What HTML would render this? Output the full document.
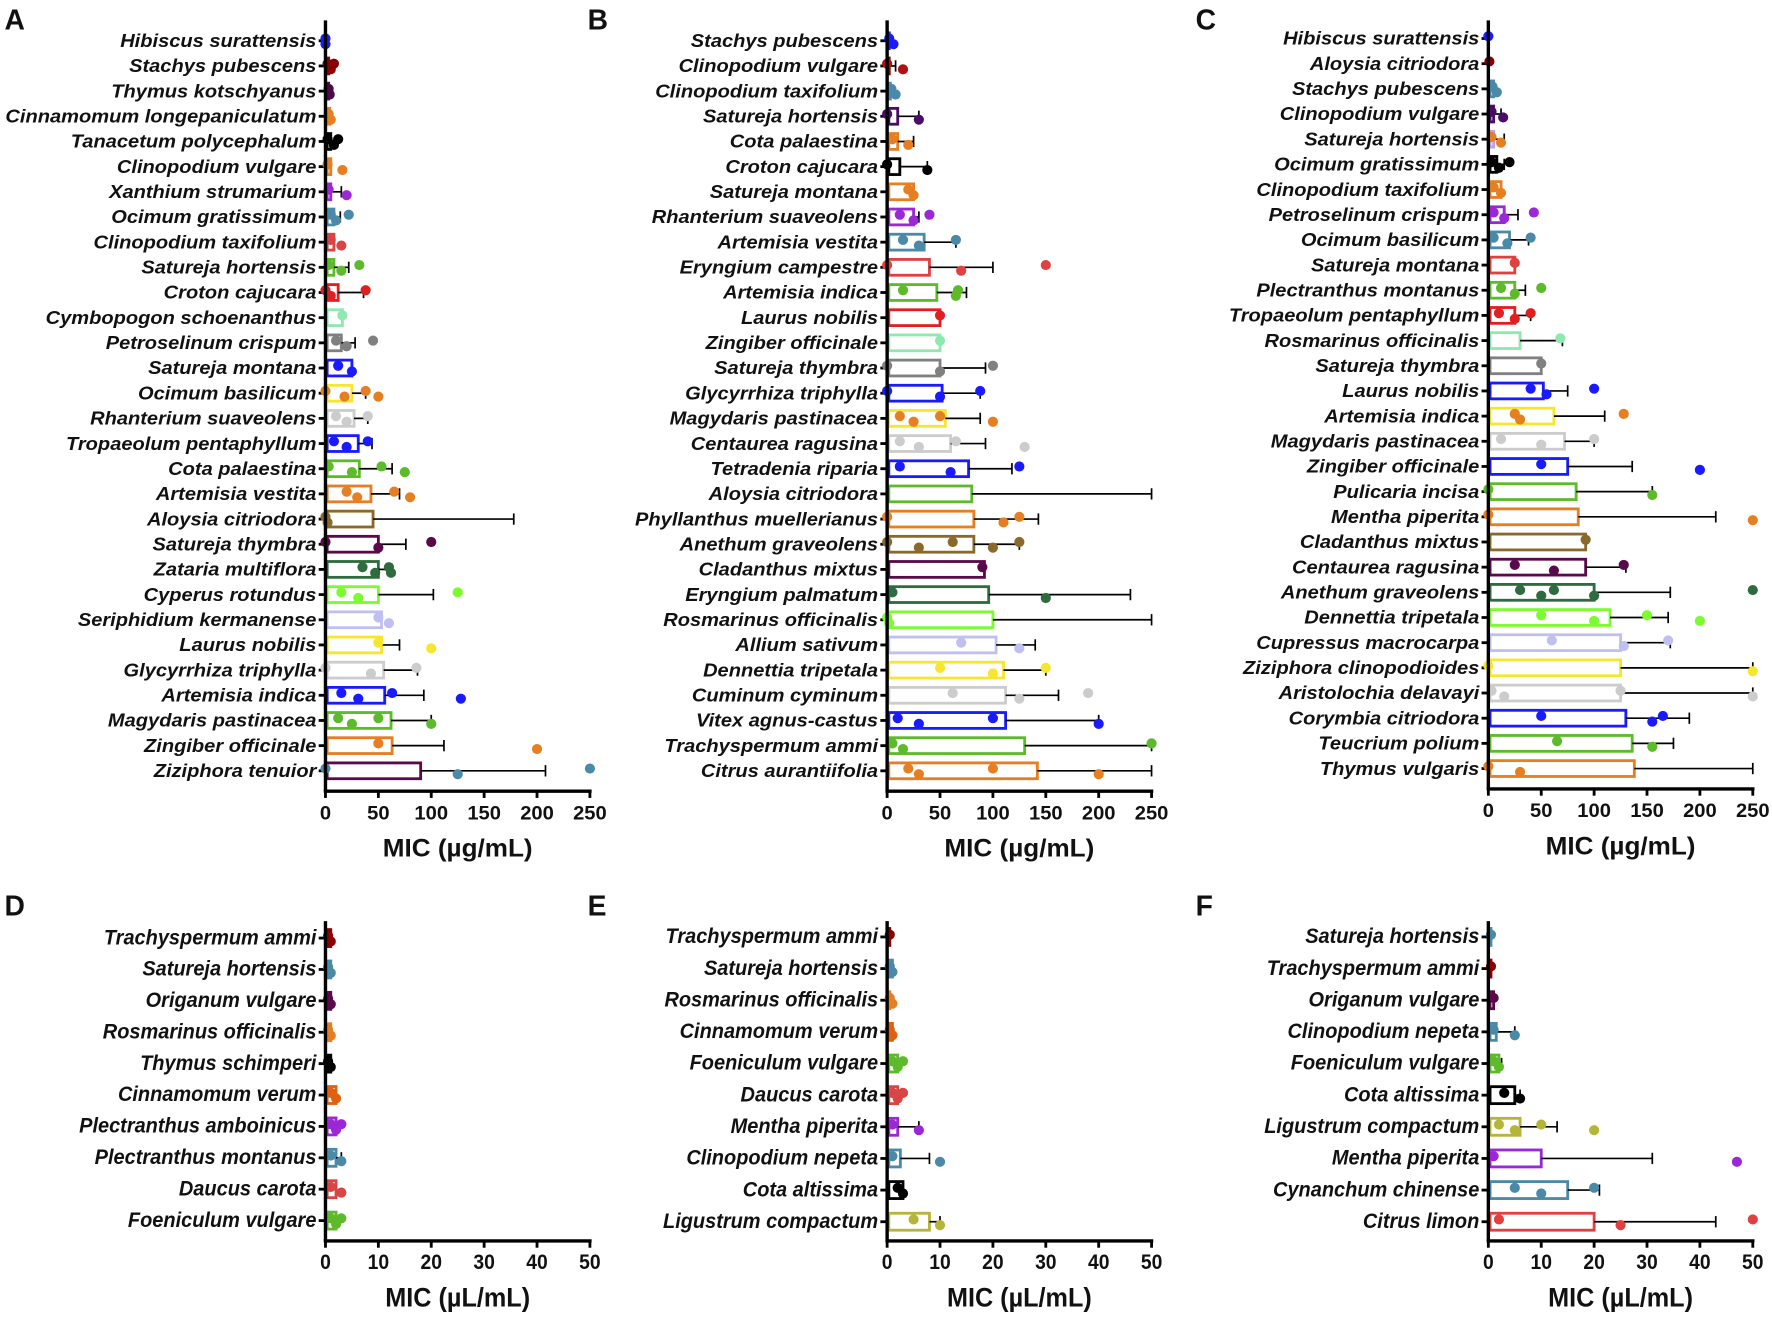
<!DOCTYPE html>
<html><head><meta charset="utf-8"><style>
html,body{margin:0;padding:0;background:#fff;}
svg{display:block;}
text{font-family:"Liberation Sans",sans-serif;font-weight:bold;fill:#111;}
</style></head><body>
<svg id="chart" width="1772" height="1319" viewBox="0 0 1568 1167" xmlns="http://www.w3.org/2000/svg"></svg>
<script>
// ===== Panel A =====
const namesA=["Hibiscus surattensis","Stachys pubescens","Thymus kotschyanus","Cinnamomum longepaniculatum","Tanacetum polycephalum","Clinopodium vulgare","Xanthium strumarium","Ocimum gratissimum","Clinopodium taxifolium","Satureja hortensis","Croton cajucara","Cymbopogon schoenanthus","Petroselinum crispum","Satureja montana","Ocimum basilicum","Rhanterium suaveolens","Tropaeolum pentaphyllum","Cota palaestina","Artemisia vestita","Aloysia citriodora","Satureja thymbra","Zataria multiflora","Cyperus rotundus","Seriphidium kermanense","Laurus nobilis","Glycyrrhiza triphylla","Artemisia indica","Magydaris pastinacea","Zingiber officinale","Ziziphora tenuior"];
const meansA=[0,3,3,4,5,5,5,8,8,8,12,16,15,25,25,27,31,32,43,45,50,50,50,53,53,55,56,62,63,90];
const errsA=[0,0,0,0,0,0,15,14,0,22,36,0,28,20,38,40,44,63,70,178,76,63,102,0,70,87,93,100,112,208];
const ptsA=[[0,0],[2,5,8],[3,4],[3,5],[2,8,12],[2,16],[3,20],[5,10,22],[5,15],[3,15,32],[0,5,38],[16],[10,20,45],[12,25],[0,18,38,50],[10,20,40],[8,20,40],[3,25,53,75],[20,30,65,80],[0,2],[0,50,100],[35,47,60,62],[15,31,125],[50,60],[50,100],[0,43,86],[15,31,63,128],[12,25,50,100],[50,200],[0,125,250]];
const barColA=["#1a1aff","#8b0000","#4b0b4b","#e67e22","#000","#e67e22","#9b27d6","#4a8aa8","#d94444","#5dbb2b","#e02020","#8ee8b0","#808080","#1a1aff","#f5e62e","#cccccc","#1a1aff","#5dbb2b","#e67e22","#8a6a2a","#5a0a4a","#2e6b3e","#7cfc30","#c0c0f0","#f5e62e","#cccccc","#1a1aff","#5dbb2b","#e67e22","#5a0a4a"];
const ptColA=["#1a1aff","#8b0000","#4b0b4b","#e67e22","#000","#e67e22","#9b27d6","#4a8aa8","#d94444","#5dbb2b","#e02020","#8ee8b0","#808080","#1a1aff","#e67e22","#cccccc","#1a1aff","#5dbb2b","#e67e22","#8a6a2a","#5a0a4a","#2e6b3e","#7cfc30","#c0c0f0","#f5e62e","#cccccc","#1a1aff","#5dbb2b","#e67e22","#4a8aa8"];
// ===== Panel B =====
const namesB=["Stachys pubescens","Clinopodium vulgare","Clinopodium taxifolium","Satureja hortensis","Cota palaestina","Croton cajucara","Satureja montana","Rhanterium suaveolens","Artemisia vestita","Eryngium campestre","Artemisia indica","Laurus nobilis","Zingiber officinale","Satureja thymbra","Glycyrrhiza triphylla","Magydaris pastinacea","Centaurea ragusina","Tetradenia riparia","Aloysia citriodora","Phyllanthus muellerianus","Anethum graveolens","Cladanthus mixtus","Eryngium palmatum","Rosmarinus officinalis","Allium sativum","Dennettia tripetala","Cuminum cyminum","Vitex agnus-castus","Trachyspermum ammi","Citrus aurantiifolia"];
const meansB=[2,2,3,10,10,12,25,25,35,40,47,50,50,50,52,55,60,77,80,82,82,92,96,100,103,110,112,112,130,142];
const errsB=[0,8,0,30,25,38,0,30,65,100,75,0,0,93,88,88,93,118,250,143,125,0,230,250,140,150,162,200,250,250];
const ptsB=[[2,6],[0,15],[4,8],[0,30],[5,20],[0,38],[20,25],[12,25,40],[15,30,65],[0,70,150],[15,65,67],[50],[50],[0,50,100],[0,50,88],[12,25,50,100],[12,30,65,130],[12,60,125],[],[0,110,125],[0,30,62,100,125],[90],[5,150],[0,2],[70,125],[50,100,150],[62,125,190],[10,30,100,200],[5,15,250],[20,30,100,200]];
const barColB=["#1a1aff","#8b0000","#4a8aa8","#4b0b6b","#e67e22","#000","#e67e22","#9b27d6","#4a8aa8","#e04040","#5dbb2b","#e02020","#8ee8b0","#808080","#1a1aff","#f5e62e","#cccccc","#1a1aff","#5dbb2b","#e67e22","#8a6a2a","#5a0a4a","#2e6b3e","#7cfc30","#c0c0f0","#f5e62e","#cccccc","#1a1aff","#5dbb2b","#e67e22"];
const ptColB=["#1a1aff","#b01010","#4a8aa8","#4b0b6b","#e67e22","#000","#e67e22","#9b27d6","#4a8aa8","#e04040","#5dbb2b","#e02020","#8ee8b0","#808080","#1a1aff","#e67e22","#cccccc","#1a1aff","#5dbb2b","#e67e22","#8a6a2a","#5a0a4a","#2e6b3e","#7cfc30","#c0c0f0","#f5e62e","#cccccc","#1a1aff","#5dbb2b","#e67e22"];
// ===== Panel C =====
const namesC=["Hibiscus surattensis","Aloysia citriodora","Stachys pubescens","Clinopodium vulgare","Satureja hortensis","Ocimum gratissimum","Clinopodium taxifolium","Petroselinum crispum","Ocimum basilicum","Satureja montana","Plectranthus montanus","Tropaeolum pentaphyllum","Rosmarinus officinalis","Satureja thymbra","Laurus nobilis","Artemisia indica","Magydaris pastinacea","Zingiber officinale","Pulicaria incisa","Mentha piperita","Cladanthus mixtus","Centaurea ragusina","Anethum graveolens","Dennettia tripetala","Cupressus macrocarpa","Ziziphora clinopodioides","Aristolochia delavayi","Corymbia citriodora","Teucrium polium","Thymus vulgaris"];
const meansC=[0,1,5,5,5,8,12,15,20,25,25,25,30,50,52,62,72,75,83,85,92,92,100,115,125,125,125,130,136,138];
const errsC=[0,0,0,12,15,15,0,28,38,0,35,40,70,0,75,110,100,136,155,215,0,130,172,170,172,250,250,190,175,250];
const ptsC=[[0],[1],[4,8],[3,14],[3,12],[3,10,20],[5,12],[5,15,43],[5,18,40],[25],[12,25,50],[10,25,40],[68],[50],[40,55,100],[25,30,128],[12,50,100],[50,200],[0,155],[0,250],[92],[25,62,128],[30,50,62,100,250],[50,100,150,200],[60,128,170],[0,250],[3,15,125,250],[50,155,165],[65,155],[0,30]];
const barColC=["#1a1aff","#8b0000","#4a8aa8","#4b0b6b","#c0a0e0","#000","#e67e22","#9b27d6","#4a8aa8","#e04040","#5dbb2b","#e02020","#8ee8b0","#808080","#1a1aff","#f5e62e","#cccccc","#1a1aff","#5dbb2b","#e67e22","#8a6a2a","#5a0a4a","#2e6b3e","#7cfc30","#c0c0f0","#f5e62e","#cccccc","#1a1aff","#5dbb2b","#e67e22"];
const ptColC=["#1a1aff","#8b0000","#4a8aa8","#4b0b6b","#e67e22","#000","#e67e22","#9b27d6","#4a8aa8","#e04040","#5dbb2b","#e02020","#8ee8b0","#808080","#1a1aff","#e67e22","#cccccc","#1a1aff","#5dbb2b","#e67e22","#8a6a2a","#5a0a4a","#2e6b3e","#7cfc30","#c0c0f0","#f5e62e","#cccccc","#1a1aff","#5dbb2b","#e67e22"];
// ===== Panel D =====
const namesD=["Trachyspermum ammi","Satureja hortensis","Origanum vulgare","Rosmarinus officinalis","Thymus schimperi","Cinnamomum verum","Plectranthus amboinicus","Plectranthus montanus","Daucus carota","Foeniculum vulgare"];
const meansD=[1,1,1,1,1,2,2,2,2,2];
const errsD=[0,0,0,0,0,0,0,3,0,0];
const ptsD=[[0.5,1],[0.5,1],[0.5,1],[0.5,1],[0.5,1],[1,2],[1,2,3],[1,3],[1,3],[1,2,3]];
const colD=["#8b0000","#4a8aa8","#5a0a4a","#e67e22","#000","#e06010","#9b27d6","#4a8aa8","#d94444","#5dbb2b"];
// ===== Panel E =====
const namesE=["Trachyspermum ammi","Satureja hortensis","Rosmarinus officinalis","Cinnamomum verum","Foeniculum vulgare","Daucus carota","Mentha piperita","Clinopodium nepeta","Cota altissima","Ligustrum compactum"];
const meansE=[0.5,1,0.5,1,2,2,2,2.5,3,8];
const errsE=[0,0,0,0,0,0,6,8,0,10];
const ptsE=[[0.5],[0.5,1],[0.5,1],[0.5,1],[1,2,3],[1,2,3],[1,6],[1,10],[2,3],[5,10]];
const colE=["#8b0000","#4a8aa8","#e67e22","#e06010","#5dbb2b","#d94444","#9b27d6","#4a8aa8","#000","#b5b53a"];
// ===== Panel F =====
const namesF=["Satureja hortensis","Trachyspermum ammi","Origanum vulgare","Clinopodium nepeta","Foeniculum vulgare","Cota altissima","Ligustrum compactum","Mentha piperita","Cynanchum chinense","Citrus limon"];
const meansF=[0.5,0.5,1,1.5,2,5,6,10,15,20];
const errsF=[0,0,0,5,2.5,6,13,31,21,43];
const ptsF=[[0.5],[0.5],[1],[1,5],[1,2],[3,6],[2,5,10,20],[1,47],[5,10,20],[2,25,50]];
const colF=["#4a8aa8","#8b0000","#5a0a4a","#4a8aa8","#5dbb2b","#000","#b5b53a","#9b27d6","#4a8aa8","#e04040"];

const svg=document.getElementById('chart');
const NS="http://www.w3.org/2000/svg";
function el(tag,attrs,parent){const e=document.createElementNS(NS,tag);for(const k in attrs)e.setAttribute(k,attrs[k]);(parent||svg).appendChild(e);return e;}

function panel(cfg){
  const g=el('g',{});
  
  
  const xs=v=>cfg.x0+(v/cfg.max)*cfg.w;
  const n=cfg.names.length;
  const ys=i=>cfg.y0+i*(cfg.y1-cfg.y0)/(n-1);
  const L=el('text',{x:cfg.lx,y:cfg.ly,'font-size':25},g);L.textContent=cfg.letter;
  
  
  const axB=cfg.axB;
  for(let i=0;i<n;i++){
    const y=ys(i),bc=cfg.barCol[i],pc=cfg.ptCol[i];
    const t=el('text',{'font-size':cfg.fs,'font-style':'italic','text-anchor':'end',transform:`translate(${cfg.x0-8},${y+5.5}) scale(${cfg.sx},1)`},g);
    t.textContent=cfg.names[i];
    
    
    el('line',{x1:cfg.x0-6,x2:cfg.x0,y1:y,y2:y,stroke:'#000','stroke-width':2.5},g);
    const m=cfg.means[i];
    if(m>0){
      const b=el('rect',{x:cfg.x0+1.5,y:y-cfg.bh/2,width:Math.max(0,xs(m)-cfg.x0-1.5),height:cfg.bh,fill:'none',stroke:bc,'stroke-width':2.5},g);
      
      
    }
    const e=cfg.errs[i];
    if(e>m){
      const el1=el('line',{x1:xs(m),x2:xs(e),y1:y,y2:y,stroke:'#000','stroke-width':1.5},g);
      
      
      el('line',{x1:xs(e),x2:xs(e),y1:y-5,y2:y+5,stroke:'#000','stroke-width':1.5},g);
    }
    cfg.pts[i].forEach((p,k)=>{
      const c=el('circle',{cx:xs(p),cy:y+((k%2)?3:-2),r:4.5,fill:pc},g);
      
      
    });
  }
  el('line',{x1:cfg.x0,x2:cfg.x0,y1:cfg.yTop,y2:axB,stroke:'#000','stroke-width':3},g);
  el('line',{x1:cfg.x0-1.5,x2:cfg.x0+cfg.w+1.5,y1:axB,y2:axB,stroke:'#000','stroke-width':3},g);
  cfg.ticks.forEach(tv=>{
    const x=xs(tv);
    el('line',{x1:x,x2:x,y1:axB,y2:axB+6,stroke:'#000','stroke-width':2.5},g);
    const tt=el('text',{'font-size':cfg.tfs,'text-anchor':'middle',transform:`translate(${x},${axB+25}) scale(${cfg.tsx},1)`},g);
    tt.textContent=tv;
    
    
  });
  const at=el('text',{'font-size':cfg.afs,'text-anchor':'middle',transform:`translate(${cfg.x0+cfg.w/2},${axB+58}) scale(${cfg.asx},1)`},g);
  at.textContent=cfg.title;
  
  
}
const t250=[0,50,100,150,200,250], t50=[0,10,20,30,40,50];
const cfgTop={fs:16,sx:1.11,bh:14,tfs:17,tsx:1.05,afs:22,asx:1.05};
const cfgBot={fs:19,sx:0.93,bh:15,tfs:19,tsx:0.9,afs:24,asx:0.93};
panel(Object.assign({letter:'A',lx:4,ly:26,names:namesA,means:meansA,errs:errsA,pts:ptsA,barCol:barColA,ptCol:ptColA,x0:288,w:234,max:250,y0:36,y1:682,yTop:18,axB:700,ticks:t250,title:'MIC (µg/mL)'},cfgTop));
panel(Object.assign({letter:'B',lx:520,ly:26,names:namesB,means:meansB,errs:errsB,pts:ptsB,barCol:barColB,ptCol:ptColB,x0:785,w:234,max:250,y0:36,y1:682,yTop:18,axB:700,ticks:t250,title:'MIC (µg/mL)'},cfgTop));
panel(Object.assign({letter:'C',lx:1058,ly:26,names:namesC,means:meansC,errs:errsC,pts:ptsC,barCol:barColC,ptCol:ptColC,x0:1317,w:234,max:250,y0:34,y1:680,yTop:18,axB:698,ticks:t250,title:'MIC (µg/mL)'},cfgTop));
panel(Object.assign({letter:'D',lx:4,ly:810,names:namesD,means:meansD,errs:errsD,pts:ptsD,barCol:colD,ptCol:colD,x0:288,w:234,max:50,y0:830,y1:1080,yTop:815,axB:1098,ticks:t50,title:'MIC (µL/mL)'},cfgBot));
panel(Object.assign({letter:'E',lx:520,ly:810,names:namesE,means:meansE,errs:errsE,pts:ptsE,barCol:colE,ptCol:colE,x0:785,w:234,max:50,y0:829,y1:1081,yTop:815,axB:1098,ticks:t50,title:'MIC (µL/mL)'},cfgBot));
panel(Object.assign({letter:'F',lx:1058,ly:810,names:namesF,means:meansF,errs:errsF,pts:ptsF,barCol:colF,ptCol:colF,x0:1317,w:234,max:50,y0:829,y1:1081,yTop:815,axB:1098,ticks:t50,title:'MIC (µL/mL)'},cfgBot));
</script>
</body></html>
